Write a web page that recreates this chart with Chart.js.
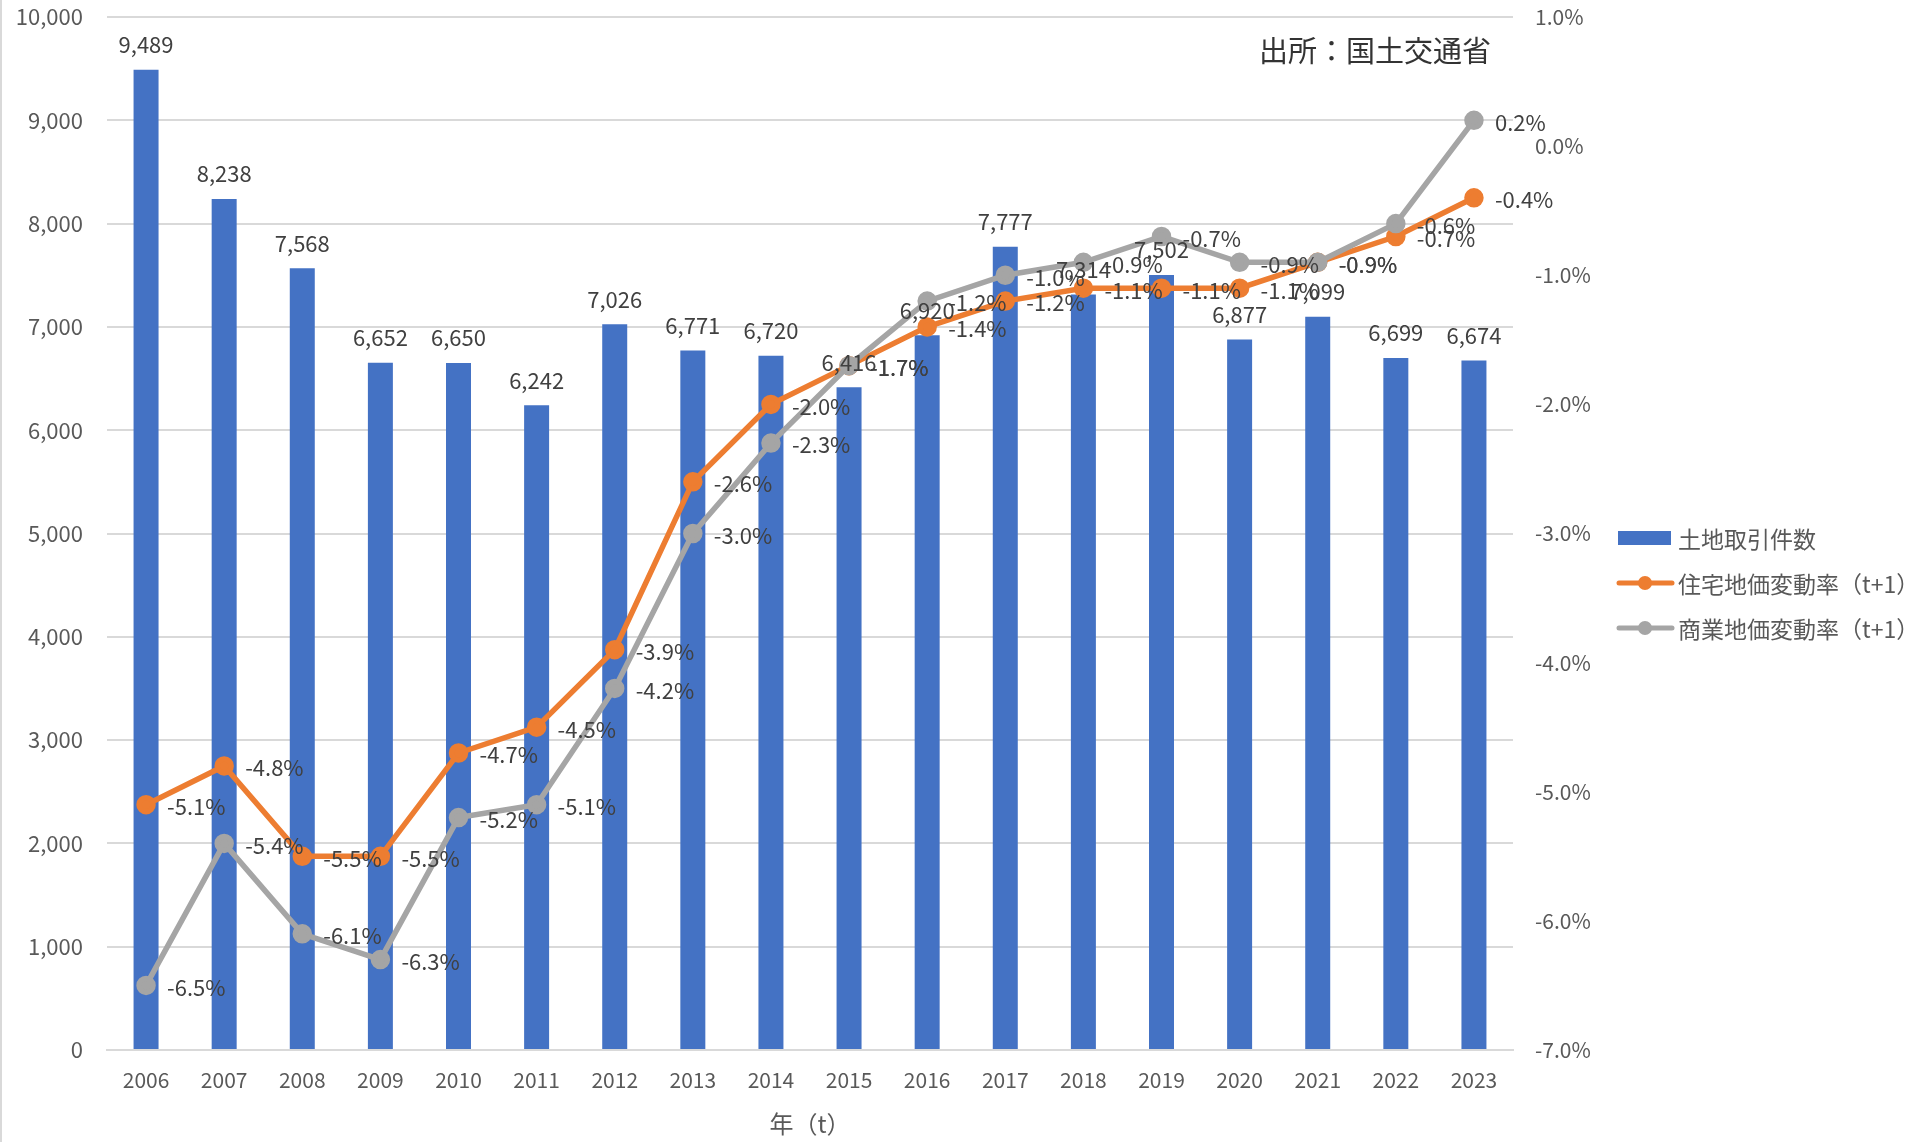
<!DOCTYPE html>
<html>
<head>
<meta charset="utf-8">
<script src="https://cdn.jsdelivr.net/npm/chart.js@4.4.1/dist/chart.umd.min.js"></script>
<style>
    html, body { margin: 0; padding: 0; background: #ffffff; }
    #wrap { position: relative; width: 1929px; height: 1142px; }
</style>
</head>
<body>
<div id="wrap"><canvas id="myChart" width="1929" height="1142"></canvas></div>
<script>
// data
var years = ['2006', '2007', '2008', '2009', '2010', '2011', '2012', '2013', '2014', '2015', '2016', '2017', '2018', '2019', '2020', '2021', '2022', '2023'];
var landDeals = [9489, 8238, 7568, 6652, 6650, 6242, 7026, 6771, 6720, 6416, 6920, 7777, 7314, 7502, 6877, 7099, 6699, 6674];
var residentialRate = [-5.1, -4.8, -5.5, -5.5, -4.7, -4.5, -3.9, -2.6, -2.0, -1.7, -1.4, -1.2, -1.1, -1.1, -1.1, -0.9, -0.7, -0.4];
var commercialRate = [-6.5, -5.4, -6.1, -6.3, -5.2, -5.1, -4.2, -3.0, -2.3, -1.7, -1.2, -1.0, -0.9, -0.7, -0.9, -0.9, -0.6, 0.2];
var seriesNames = ['土地取引件数', '住宅地価変動率（t+1）', '商業地価変動率（t+1）'];
var sourceText = '出所：国土交通省';
var xTitle = '年（t）';

colour = ['#4472C4', '#ED7D31', '#A5A5A5'];
var FONT = "'Noto Sans CJK JP', 'Noto Sans', sans-serif";

Chart.defaults.font.family = FONT;
Chart.defaults.color = '#595959';

// value labels, legend, source note
var labelPlugin = {
    id: 'labels',
    afterDatasetsDraw: function(chart){
        var ctx = chart.ctx;
        ctx.save();
        ctx.font = '22px ' + FONT;
        ctx.fillStyle = '#404040';
        // bar values
        var barMeta = chart.getDatasetMeta(0);
        ctx.textAlign = 'center';
        ctx.textBaseline = 'bottom';
        barMeta.data.forEach(function(bar, i){
            ctx.fillText(landDeals[i].toLocaleString('en-US'), bar.x, bar.y - 14);
        });
        // line values, to the right of each point
        ctx.textAlign = 'left';
        ctx.textBaseline = 'middle';
        [1, 2].forEach(function(d){
            var meta = chart.getDatasetMeta(d);
            var vals = chart.data.datasets[d].data;
            meta.data.forEach(function(pt, i){
                ctx.fillText(vals[i].toFixed(1) + '%', pt.x + 21, pt.y + 2);
            });
        });
        ctx.restore();
    },
    afterDraw: function(chart){
        var ctx = chart.ctx;
        ctx.save();
        // left border of the chart box
        ctx.strokeStyle = '#d9d9d9';
        ctx.lineWidth = 2;
        ctx.beginPath();
        ctx.moveTo(1, 0);
        ctx.lineTo(1, 1142);
        ctx.stroke();
        // source note
        ctx.font = '29px ' + FONT;
        ctx.fillStyle = '#333333';
        ctx.textAlign = 'right';
        ctx.textBaseline = 'middle';
        ctx.fillText(sourceText, 1491, 51);
        // legend
        ctx.font = '23px ' + FONT;
        ctx.textAlign = 'left';
        var lx = 1618, ly = 538, gap = 45;
        ctx.fillStyle = colour[0];
        ctx.fillRect(lx, ly - 7, 53, 14);
        for (var k = 1; k < 3; k++){
            var yy = ly + gap * k;
            ctx.strokeStyle = colour[k];
            ctx.lineWidth = 5;
            ctx.lineCap = 'round';
            ctx.beginPath();
            ctx.moveTo(lx + 1, yy);
            ctx.lineTo(lx + 54, yy);
            ctx.stroke();
            ctx.fillStyle = colour[k];
            ctx.beginPath();
            ctx.arc(lx + 27, yy, 7, 0, Math.PI * 2);
            ctx.fill();
        }
        ctx.fillStyle = '#595959';
        for (var k = 0; k < 3; k++){
            ctx.fillText(seriesNames[k], lx + 60, ly + gap * k + 1);
        }
        ctx.restore();
    }
};

function noVerticalPad(scale){
    scale.paddingTop = 0;
    scale.paddingBottom = 0;
}

var ctx = document.getElementById('myChart').getContext('2d');
var myChart = new Chart(ctx, {
    data: {
        labels: years,
        datasets: [
            {
                type: 'bar',
                label: seriesNames[0],
                data: landDeals,
                backgroundColor: colour[0],
                barPercentage: 0.32,
                categoryPercentage: 1.0,
                yAxisID: 'y',
                order: 3
            },
            {
                type: 'line',
                label: seriesNames[1],
                data: residentialRate,
                borderColor: colour[1],
                backgroundColor: colour[1],
                borderWidth: 5.5,
                pointRadius: 7,
                pointHoverRadius: 7,
                tension: 0,
                yAxisID: 'y1',
                order: 2
            },
            {
                type: 'line',
                label: seriesNames[2],
                data: commercialRate,
                borderColor: colour[2],
                backgroundColor: colour[2],
                borderWidth: 5.5,
                pointRadius: 7,
                pointHoverRadius: 7,
                tension: 0,
                yAxisID: 'y1',
                order: 1
            }
        ]
    },
    options: {
        responsive: false,
        animation: false,
        layout: {
            padding: { top: 17, right: 306, bottom: 0, left: 0 }
        },
        scales: {
            x: {
                grid: { display: false, drawTicks: false },
                border: { display: true, color: '#d9d9d9', width: 2 },
                ticks: { padding: 17, font: { size: 21 }, color: '#595959', maxRotation: 0 },
                title: {
                    display: true,
                    text: xTitle,
                    font: { size: 24 },
                    color: '#595959',
                    padding: { top: 0, bottom: 4 }
                },
                afterFit: function(scale){ scale.height = 92; }
            },
            y: {
                position: 'left',
                min: 0,
                max: 10000,
                ticks: {
                    stepSize: 1000,
                    padding: 24,
                    font: { size: 22 },
                    color: '#595959',
                    callback: function(v){ return v.toLocaleString('en-US'); }
                },
                grid: { color: '#d9d9d9', lineWidth: 2, drawTicks: false },
                border: { display: false },
                afterFit: function(scale){ scale.width = 107; noVerticalPad(scale); }
            },
            y1: {
                position: 'right',
                min: -7,
                max: 1,
                ticks: {
                    stepSize: 1,
                    padding: 22,
                    font: { size: 21 },
                    color: '#595959',
                    callback: function(v){ return v.toFixed(1) + '%'; }
                },
                grid: { display: false, drawTicks: false },
                border: { display: false },
                afterFit: function(scale){ scale.width = 110; noVerticalPad(scale); }
            }
        },
        plugins: {
            legend: { display: false },
            tooltip: { enabled: false }
        }
    },
    plugins: [labelPlugin]
});
</script>
</body>
</html>
